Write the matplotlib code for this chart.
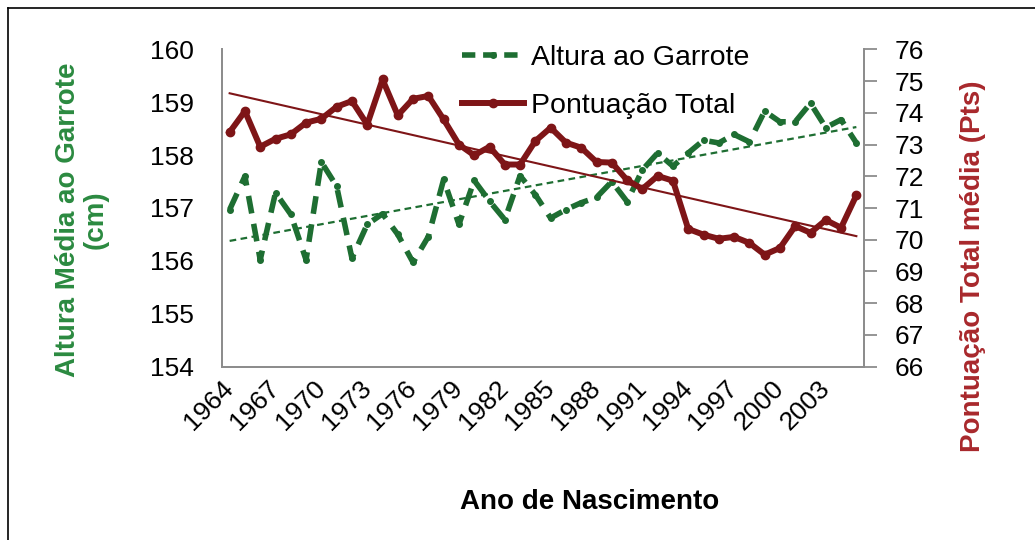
import matplotlib
matplotlib.use("Agg")
import matplotlib.pyplot as plt
from matplotlib.lines import Line2D
import numpy as np

plt.rcParams['font.family'] = ['Liberation Sans', 'DejaVu Sans']

# dados
anos = list(range(1964, 2006))
altura = [156.97, 157.60, 156.02, 157.29, 156.88, 156.02, 157.87, 157.41, 156.05, 156.69,
          156.89, 156.50, 155.97, 156.46, 157.54, 156.69, 157.52, 157.13, 156.78, 157.61,
          157.25, 156.81, 156.97, 157.10, 157.20, 157.50, 157.12, 157.72, 158.04, 157.79,
          158.04, 158.28, 158.23, 158.39, 158.25, 158.83, 158.63, 158.63, 158.98, 158.52,
          158.67, 158.23]
pontuacao = [73.39, 74.05, 72.93, 73.18, 73.32, 73.69, 73.81, 74.19, 74.37, 73.63,
             75.05, 73.92, 74.44, 74.53, 73.79, 73.00, 72.66, 72.93, 72.37, 72.37,
             73.11, 73.53, 73.06, 72.90, 72.45, 72.43, 71.88, 71.60, 72.01, 71.86,
             70.34, 70.16, 70.03, 70.09, 69.90, 69.53, 69.74, 70.43, 70.22, 70.62,
             70.38, 71.40]
rotulos_x = [str(a) for a in anos[::3]]

verde = '#1E6E32'
verde_txt = '#2B8A40'
vermelho = '#7E1517'
vermelho_txt = '#A8282C'

x = np.arange(len(anos))

fig = plt.figure(figsize=(10.35, 5.4), dpi=100)
ax = fig.add_axes([222/1035, 1-366.7/540, (864-222)/1035, (366.7-49.3)/540])
ax2 = ax.twinx()

# linhas de tendencia (regressao linear)
c1 = np.polyfit(x, altura, 1)
c2 = np.polyfit(x, pontuacao, 1)
ax.plot(x, np.polyval(c1, x), color=verde, lw=1.6, ls=(0, (3, 2)), zorder=2)
ax2.plot(x, np.polyval(c2, x), color=vermelho, lw=1.5, zorder=2)

ax.plot(x, altura, color=verde, lw=4.0, ls=(0, (3.2, 1.9)), marker='o', ms=4,
        zorder=3)
ax2.plot(x, pontuacao, color=vermelho, lw=4.3, marker='o', ms=6, zorder=3,
         solid_joinstyle='round')

ax.set_xlim(-0.5, len(anos) - 0.5)
ax.set_ylim(154, 160)
ax2.set_ylim(66, 76)
ax.set_yticks(range(154, 161))
ax2.set_yticks(range(66, 77))
ax.set_xticks(x[::3])
ax.set_xticklabels(rotulos_x, rotation=45, ha='right', va='center',
                   rotation_mode='anchor')

for a in (ax, ax2):
    for s in a.spines.values():
        s.set_color('#8C8C8C')
        s.set_linewidth(1.3)
    a.spines['top'].set_visible(False)

ax.tick_params(axis='y', length=0, pad=20, labelsize=19)
ax.tick_params(axis='x', length=0, pad=13, labelsize=19)
ax2.tick_params(axis='y', length=9, width=1.3, color='#8C8C8C', pad=13, labelsize=19)

# legenda
h = [Line2D([], [], color=verde, lw=4.0, ls=(0, (2.4, 1.4)), marker='o', ms=4),
     Line2D([], [], color=vermelho, lw=4.3, marker='o', ms=6)]
fig.legend(h, ['Altura ao Garrote', 'Pontuação Total'], loc='upper left',
           bbox_to_anchor=(436/1035, 1-19/540), frameon=False, fontsize=20.5,
           handlelength=2.2, handletextpad=0.25, labelspacing=0.78)

fig.text(82/1035, 1-220/540, 'Altura Média ao Garrote\n(cm)', rotation=90,
         ha='center', va='center', fontsize=20, fontweight='bold', color=verde_txt,
         linespacing=1.05)
fig.text(973/1035, 1-266/540, 'Pontuação Total média (Pts)', rotation=90,
         ha='center', va='center', fontsize=20, fontweight='bold', color=vermelho_txt)
fig.text(590/1035, 1-502/540, 'Ano de Nascimento', ha='center', va='center',
         fontsize=20, fontweight='bold')

# moldura
fig.add_artist(Line2D([8/1035, 1], [1-8/540, 1-8/540], color='black', lw=1.2))
fig.add_artist(Line2D([8/1035, 8/1035], [0, 1-8/540], color='black', lw=1.2))

fig.savefig('out.png', dpi=100)
